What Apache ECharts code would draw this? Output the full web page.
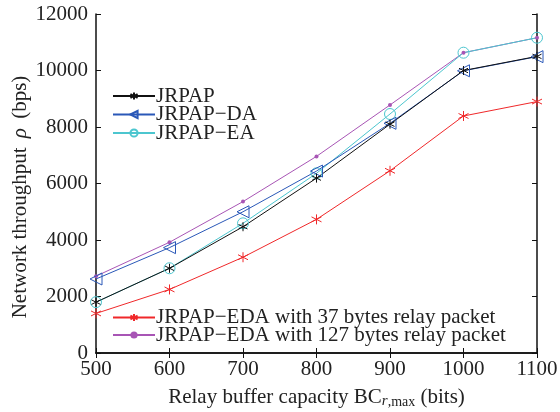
<!DOCTYPE html>
<html>
<head>
<meta charset="utf-8">
<script src="https://cdn.jsdelivr.net/npm/echarts@6/dist/echarts.min.js"></script>
<style>
  html, body { margin: 0; padding: 0; background: #fff; }
  #chart { width: 560px; height: 412px; }
</style>
</head>
<body>
<div id="chart"></div>
<script>
// Relay buffer capacity (bits)
const bufferCapacity = [500, 600, 700, 800, 900, 1000, 1100];
const yTicks = [0, 2000, 4000, 6000, 8000, 10000, 12000];

// Network throughput (bps) per scheme
const jrpap     = [1800, 3000, 4470, 6190, 8100, 10000, 10500];
const jrpapDA   = [2620, 3730, 5000, 6440, 8130, 9990, 10490];
const jrpapEA   = [1800, 3000, 4590, 6360, 8460, 10630, 11160];
const eda37     = [1400, 2250, 3390, 4730, 6450, 8390, 8900];
const eda127    = [2720, 3920, 5360, 6960, 8780, 10630, 11160];

const names = [
  'JRPAP', 'JRPAP\u2212DA', 'JRPAP\u2212EA',
  'JRPAP\u2212EDA with 37 bytes relay packet',
  'JRPAP\u2212EDA with 127 bytes relay packet'
];

const FONT = '"Liberation Serif", "DejaVu Serif", serif';
const FS = 21;
const ASTERISK = 'path://M0,-10L0,10M-8.66,-5L8.66,5M-8.66,5L8.66,-5';
const TRI_LEFT = 'path://M0,5L10,0L10,10Z';

function pairs(vals) { return bufferCapacity.map((x, i) => [x, vals[i]]); }

function series(name, vals, color, symbol, size, filled) {
  return {
    name: name,
    type: 'line',
    data: pairs(vals),
    symbol: symbol,
    symbolSize: size,
    showAllSymbol: true,
    lineStyle: { color: color, width: 1 },
    itemStyle: filled
      ? { color: color, borderColor: color, borderWidth: 0 }
      : { color: 'none', borderColor: color, borderWidth: 1 },
    emphasis: { disabled: true },
    animation: false
  };
}

// one legend block per entry so each row sits at its own height
function legendRow(name, centerY) {
  return {
    data: [name],
    orient: 'vertical',
    left: 112, top: centerY - 11,
    itemWidth: 42, itemHeight: 9,
    padding: 0,
    textStyle: { fontFamily: FONT, fontSize: FS, color: '#222', padding: [0, 0, 0, -4], lineHeight: 22 },
    selectedMode: false
  };
}

const chart = echarts.init(document.getElementById('chart'), null, { renderer: 'canvas' });

const axisCommon = {
  type: 'value',
  axisLine: { show: true, lineStyle: { color: '#111', width: 1.5 } },
  axisTick: { show: true, inside: true, length: 5, lineStyle: { color: '#111', width: 1 } },
  splitLine: { show: false }
};

chart.setOption({
  backgroundColor: '#fff',
  animation: false,
  grid: { left: 96, right: 23, top: 14, bottom: 59, containLabel: false, outerBoundsMode: 'none' },
  legend: [
    legendRow(names[0], 96),
    legendRow(names[1], 114.5),
    legendRow(names[2], 133),
    legendRow(names[3], 317.5),
    legendRow(names[4], 335)
  ],
  // vertical title of the throughput axis
  graphic: [{
    type: 'text',
    x: 20, y: 197,
    rotation: Math.PI / 2,
    silent: true,
    style: {
      text: '{n|Network throughput }{i|\u03c1}{n| (bps)}',
      align: 'center',
      verticalAlign: 'middle',
      rich: {
        n: { fontFamily: FONT, fontSize: FS, fill: '#222' },
        i: { fontFamily: FONT, fontSize: FS, fontStyle: 'italic', fill: '#222', padding: [0, 4, 0, 4] }
      }
    }
  }],
  xAxis: [
    Object.assign({}, axisCommon, {
      min: 500, max: 1100, interval: 100,
      position: 'bottom',
      axisLabel: { fontFamily: FONT, fontSize: FS, color: '#222', margin: 6, formatter: v => String(v) },
      name: '{n|Relay buffer capacity BC}{s|r}{t|,max}{n| (bits)}',
      nameLocation: 'middle', nameGap: 32,
      nameTextStyle: {
        rich: {
          n: { fontFamily: FONT, fontSize: FS, color: '#222' },
          s: { fontFamily: FONT, fontSize: 15, fontStyle: 'italic', color: '#222', verticalAlign: 'bottom', padding: [9, 0, 0, 0] },
          t: { fontFamily: FONT, fontSize: 14, color: '#222', verticalAlign: 'bottom', padding: [9, 0, 0, 0] }
        }
      }
    }),
    Object.assign({}, axisCommon, {
      min: 500, max: 1100, interval: 100,
      position: 'top',
      axisLabel: { show: false }
    })
  ],
  yAxis: [
    Object.assign({}, axisCommon, {
      min: 0, max: 12000, interval: 2000,
      position: 'left',
      axisLabel: {
        fontFamily: FONT, fontSize: FS, color: '#222', margin: 8,
        formatter: v => (yTicks.indexOf(v) >= 0 ? String(v) : '')
      }
    }),
    Object.assign({}, axisCommon, {
      min: 0, max: 12000, interval: 2000,
      position: 'right',
      axisLabel: { show: false }
    })
  ],
  series: [
    series(names[4], eda127, '#a855b5', 'circle', 4, true),
    series(names[3], eda37, '#f0282a', ASTERISK, 10, false),
    series(names[2], jrpapEA, '#4cc6cf', 'circle', 11, false),
    series(names[1], jrpapDA, '#2a58b8', TRI_LEFT, 12, false),
    series(names[0], jrpap, '#111111', ASTERISK, 9, false)
  ]
});
</script>
</body>
</html>
